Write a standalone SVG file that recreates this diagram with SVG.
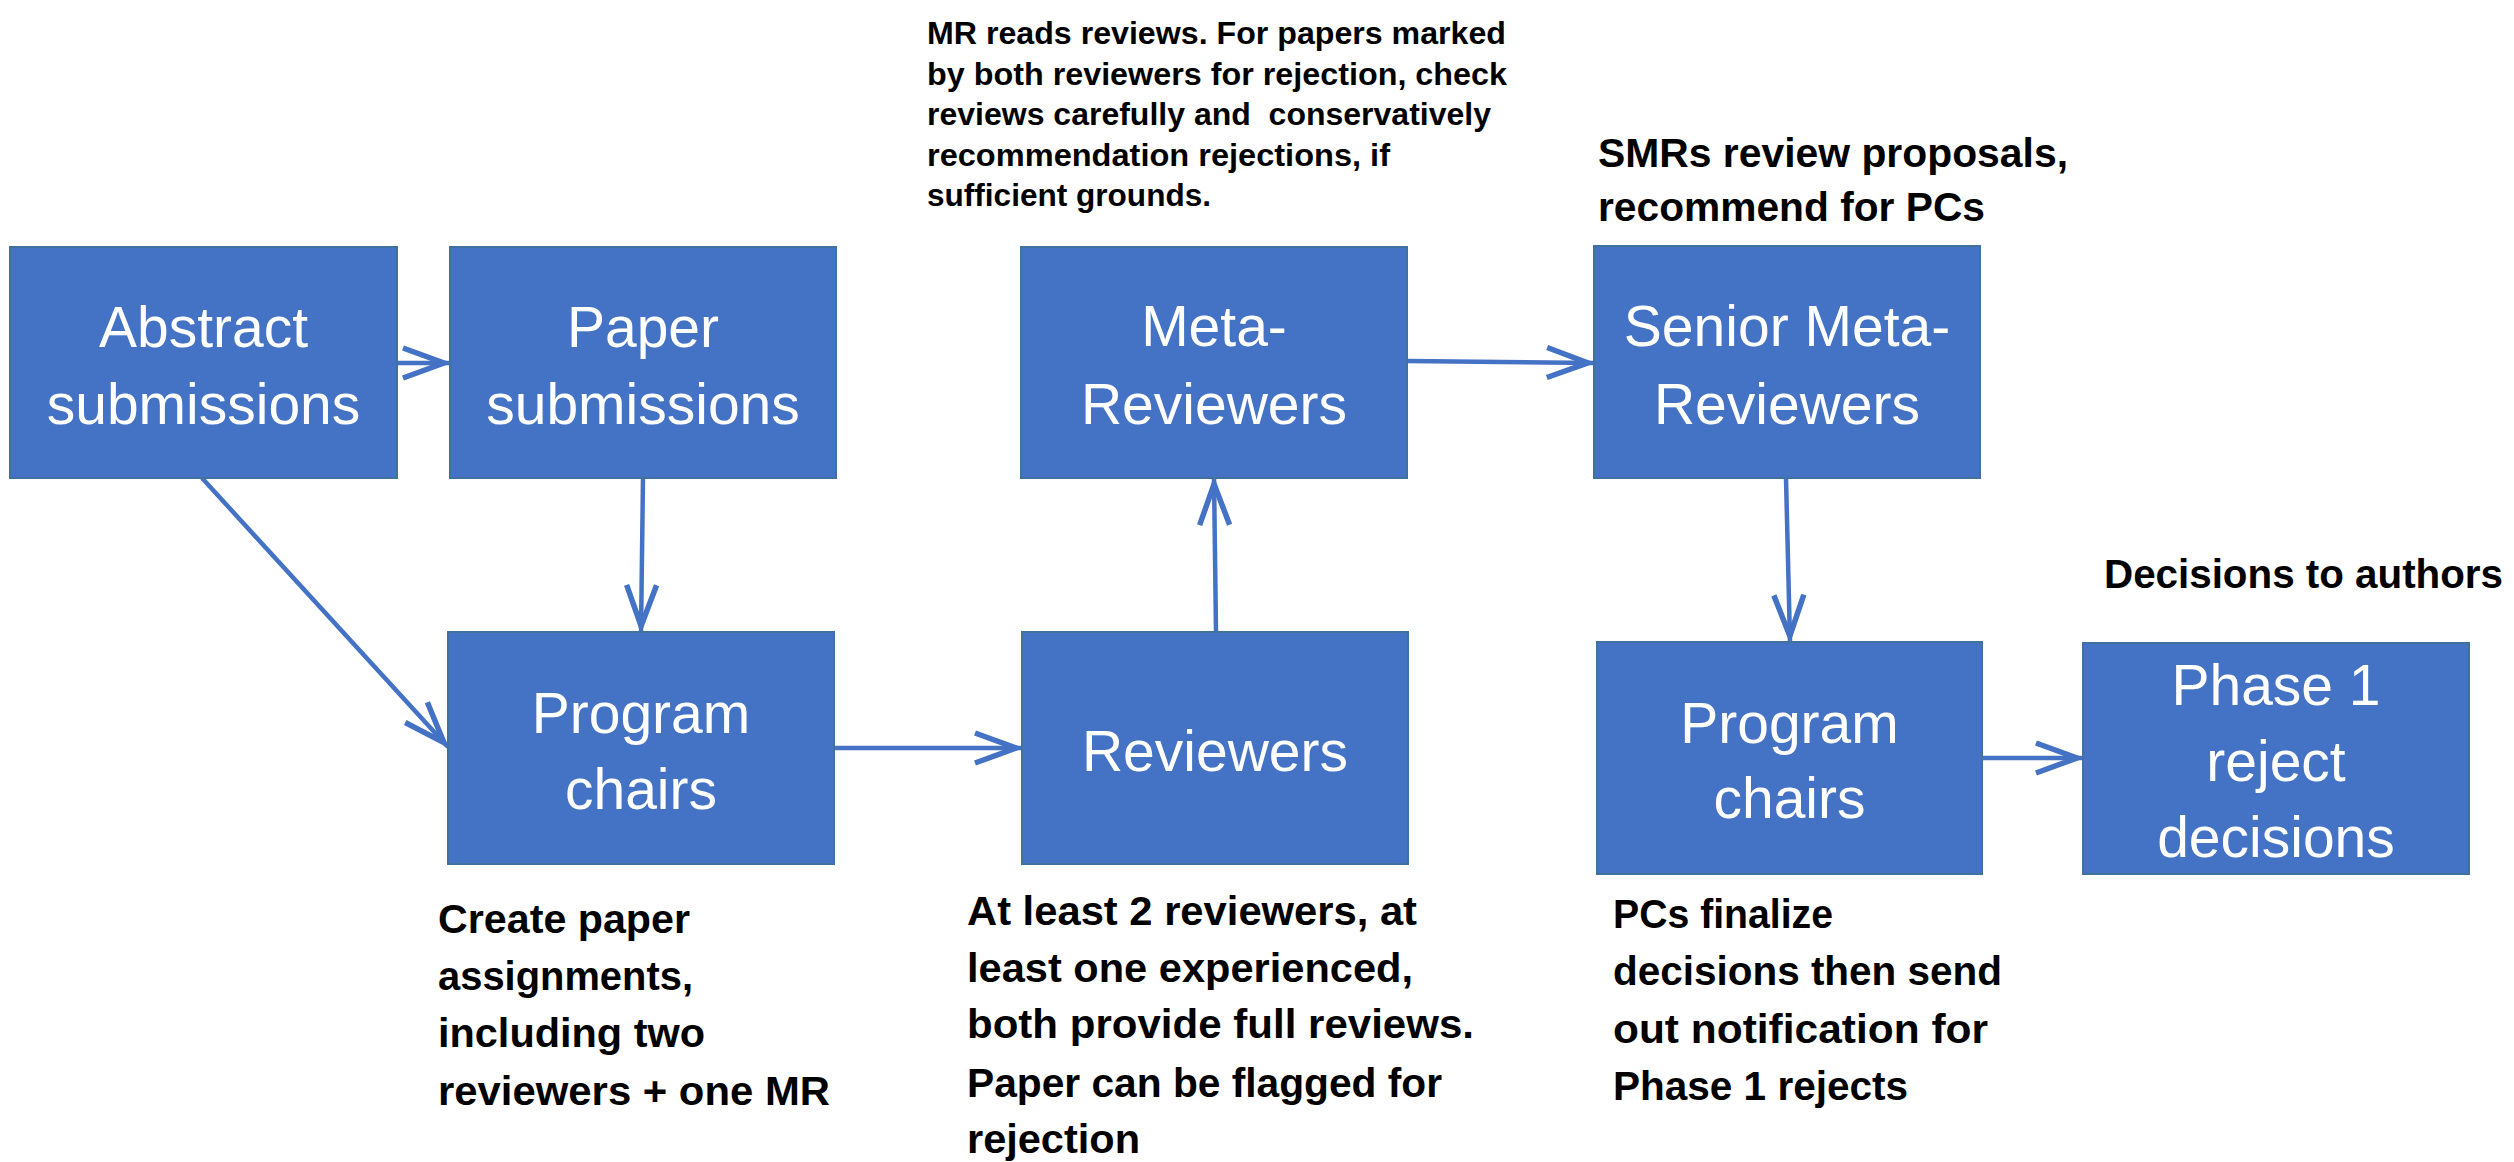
<svg xmlns="http://www.w3.org/2000/svg" width="2514" height="1162" viewBox="0 0 2514 1162">
<style>
.box{fill:#4472C4;stroke:#41719C;stroke-width:2}
.bt{font-family:"Liberation Sans",Arial,sans-serif;font-size:57px;fill:#FFFFFF;text-anchor:middle}
.an{font-family:"Liberation Sans",Arial,sans-serif;font-weight:bold;fill:#000000}
.a41{font-size:41px}
.a32{font-size:31px}
.cn{fill:none;stroke:#4472C4;stroke-width:4.5;marker-end:url(#arr)}
</style>
<defs>
<marker id="arr" markerUnits="userSpaceOnUse" markerWidth="70" markerHeight="50" viewBox="0 0 70 50" refX="56" refY="25" orient="auto" overflow="visible">
<path d="M 9 10 L 50 25 L 9 40" fill="none" stroke="#4472C4" stroke-width="5.5" stroke-linejoin="miter" stroke-miterlimit="10"/>
</marker>
</defs>
<rect width="2514" height="1162" fill="#FFFFFF"/>

<g id="connectors">
<line class="cn" x1="397" y1="363" x2="450" y2="363"/>
<line class="cn" x1="202" y1="478" x2="448" y2="747"/>
<line class="cn" x1="643" y1="478" x2="641" y2="632"/>
<line class="cn" x1="834" y1="748" x2="1022" y2="748"/>
<line class="cn" x1="1216" y1="632" x2="1214" y2="478"/>
<line class="cn" x1="1407" y1="361" x2="1594" y2="363"/>
<line class="cn" x1="1786" y1="478" x2="1790" y2="642"/>
<line class="cn" x1="1982" y1="758" x2="2083" y2="758"/>
</g>

<g id="abstract">
<rect class="box" x="10" y="247" width="387" height="231"/>
<text class="bt" x="203.5" y="347">Abstract</text>
<text class="bt" x="203.5" y="424">submissions</text>
</g>

<g id="paper">
<rect class="box" x="450" y="247" width="386" height="231"/>
<text class="bt" x="643" y="347">Paper</text>
<text class="bt" x="643" y="424">submissions</text>
</g>

<g id="program-chairs-1">
<rect class="box" x="448" y="632" width="386" height="232"/>
<text class="bt" x="641" y="733">Program</text>
<text class="bt" x="641" y="809">chairs</text>
</g>

<g id="reviewers">
<rect class="box" x="1022" y="632" width="386" height="232"/>
<text class="bt" x="1215" y="771">Reviewers</text>
</g>

<g id="meta-reviewers">
<rect class="box" x="1021" y="247" width="386" height="231"/>
<text class="bt" x="1214" y="346">Meta-</text>
<text class="bt" x="1214" y="424">Reviewers</text>
</g>

<g id="senior-meta-reviewers">
<rect class="box" x="1594" y="246" width="386" height="232"/>
<text class="bt" x="1787" y="346">Senior Meta-</text>
<text class="bt" x="1787" y="424">Reviewers</text>
</g>

<g id="program-chairs-2">
<rect class="box" x="1597" y="642" width="385" height="232"/>
<text class="bt" x="1789.5" y="743">Program</text>
<text class="bt" x="1789.5" y="818">chairs</text>
</g>

<g id="phase1">
<rect class="box" x="2083" y="643" width="386" height="231"/>
<text class="bt" x="2276" y="705">Phase 1</text>
<text class="bt" x="2276" y="781">reject</text>
<text class="bt" x="2276" y="857">decisions</text>
</g>

<g id="note-mr" class="an a32">
<text x="927" y="44" textLength="579" lengthAdjust="spacingAndGlyphs">MR reads reviews. For papers marked</text>
<text x="927" y="85" textLength="580" lengthAdjust="spacingAndGlyphs">by both reviewers for rejection, check</text>
<text x="927" y="125" textLength="564" lengthAdjust="spacingAndGlyphs" xml:space="preserve">reviews carefully and  conservatively</text>
<text x="927" y="166" textLength="463" lengthAdjust="spacingAndGlyphs">recommendation rejections, if</text>
<text x="927" y="206" textLength="284" lengthAdjust="spacingAndGlyphs">sufficient grounds.</text>
</g>

<g id="note-smr" class="an a41">
<text x="1598" y="167" textLength="470" lengthAdjust="spacingAndGlyphs">SMRs review proposals,</text>
<text x="1598" y="221" textLength="387" lengthAdjust="spacingAndGlyphs">recommend for PCs</text>
</g>

<g id="note-decisions" class="an a41">
<text x="2104" y="588" textLength="399" lengthAdjust="spacingAndGlyphs">Decisions to authors</text>
</g>

<g id="note-pc1" class="an a41">
<text x="438" y="933" textLength="252" lengthAdjust="spacingAndGlyphs">Create paper</text>
<text x="438" y="990" textLength="255" lengthAdjust="spacingAndGlyphs">assignments,</text>
<text x="438" y="1047" textLength="267" lengthAdjust="spacingAndGlyphs">including two</text>
<text x="438" y="1105" textLength="392" lengthAdjust="spacingAndGlyphs">reviewers + one MR</text>
</g>

<g id="note-reviewers" class="an a41">
<text x="967" y="925" textLength="450" lengthAdjust="spacingAndGlyphs">At least 2 reviewers, at</text>
<text x="967" y="982" textLength="446" lengthAdjust="spacingAndGlyphs">least one experienced,</text>
<text x="967" y="1038" textLength="507" lengthAdjust="spacingAndGlyphs">both provide full reviews.</text>
<text x="967" y="1097" textLength="475" lengthAdjust="spacingAndGlyphs">Paper can be flagged for</text>
<text x="967" y="1153" textLength="173" lengthAdjust="spacingAndGlyphs">rejection</text>
</g>

<g id="note-pc2" class="an a41">
<text x="1613" y="928" textLength="220" lengthAdjust="spacingAndGlyphs">PCs finalize</text>
<text x="1613" y="985" textLength="389" lengthAdjust="spacingAndGlyphs">decisions then send</text>
<text x="1613" y="1043" textLength="375" lengthAdjust="spacingAndGlyphs">out notification for</text>
<text x="1613" y="1100" textLength="295" lengthAdjust="spacingAndGlyphs">Phase 1 rejects</text>
</g>
</svg>
